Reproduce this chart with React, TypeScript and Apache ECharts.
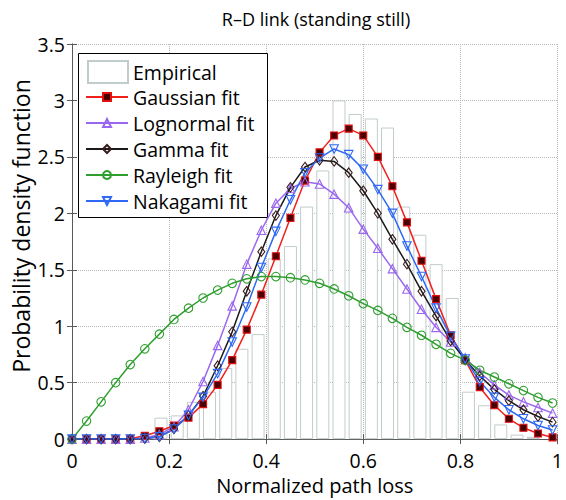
import React, { useEffect, useRef } from "react";
import * as echarts from "echarts";

// Histogram (Empirical): bin centers and heights
const binCenters = [
  0.0167, 0.05, 0.0833, 0.1167, 0.15, 0.1833, 0.2167, 0.25, 0.2833, 0.3167,
  0.35, 0.3833, 0.4167, 0.45, 0.4833, 0.5167, 0.55, 0.5833, 0.6167, 0.65,
  0.6833, 0.7167, 0.75, 0.7833, 0.8167, 0.85, 0.8833, 0.9167, 0.95, 0.9833,
];
const empirical = [
  0, 0, 0, 0.01, 0.03, 0.19, 0.21, 0.33, 0.42, 0.63,
  0.8, 0.93, 1.6, 1.71, 2.06, 2.38, 3.0, 2.88, 2.84, 2.76,
  2.06, 1.81, 1.55, 1.25, 0.42, 0.3, 0.13, 0.04, 0.02, 0,
];

// Fitted pdfs sampled at these x positions
const fitX = [
  0, 0.03, 0.06, 0.09, 0.12, 0.15, 0.18, 0.21, 0.24, 0.27, 0.3, 0.33,
  0.36, 0.39, 0.42, 0.45, 0.48, 0.51, 0.54, 0.57, 0.6, 0.63, 0.66, 0.69,
  0.72, 0.75, 0.78, 0.81, 0.84, 0.87, 0.9, 0.93, 0.96, 0.99,
];
const gaussian = [
  0, 0, 0, 0, 0.003, 0.03, 0.07, 0.12, 0.19, 0.31, 0.48, 0.7,
  0.97, 1.28, 1.62, 1.96, 2.29, 2.54, 2.69, 2.75, 2.69, 2.5, 2.24, 1.92,
  1.58, 1.24, 0.92, 0.7, 0.46, 0.3, 0.18, 0.1, 0.05, 0.015,
];
const lognormal = [
  0, 0, 0, 0, 0, 0.01, 0.04, 0.11, 0.26, 0.51, 0.83, 1.18,
  1.55, 1.85, 2.09, 2.22, 2.28, 2.26, 2.17, 2.05, 1.86, 1.69, 1.51, 1.33,
  1.15, 0.99, 0.86, 0.72, 0.59, 0.48, 0.39, 0.33, 0.28, 0.23,
];
const gamma = [
  0, 0, 0, 0, 0, 0.005, 0.02, 0.09, 0.21, 0.38, 0.65, 0.95,
  1.31, 1.66, 1.98, 2.23, 2.41, 2.47, 2.46, 2.36, 2.2, 2.0, 1.77, 1.55,
  1.31, 1.09, 0.87, 0.7, 0.56, 0.44, 0.34, 0.26, 0.2, 0.15,
];
const rayleigh = [
  0, 0.16, 0.33, 0.5, 0.66, 0.8, 0.93, 1.06, 1.16, 1.25, 1.32, 1.38,
  1.42, 1.44, 1.44, 1.43, 1.41, 1.38, 1.33, 1.27, 1.2, 1.14, 1.07, 0.99,
  0.92, 0.84, 0.76, 0.7, 0.61, 0.55, 0.49, 0.43, 0.37, 0.32,
];
const nakagami = [
  0, 0, 0, 0, 0, 0.005, 0.02, 0.09, 0.21, 0.37, 0.58, 0.86,
  1.17, 1.52, 1.84, 2.12, 2.36, 2.49, 2.57, 2.52, 2.39, 2.21, 2.0, 1.71,
  1.44, 1.16, 0.91, 0.71, 0.51, 0.37, 0.26, 0.18, 0.12, 0.08,
];

const seriesNames = [
  "Empirical",
  "Gaussian fit",
  "Lognormal fit",
  "Gamma fit",
  "Rayleigh fit",
  "Nakagami fit",
];
const titleText = "R\u2013D link (standing still)";
const xAxisTitle = "Normalized path loss";
const yAxisTitle = "Probability density function";

export default function App() {
  const ref = useRef<HTMLDivElement>(null);

  useEffect(() => {
    const chart = echarts.init(ref.current!, null, { renderer: "svg" });
    const FONT = "Open Sans";
    const pair = (xs: number[], ys: number[]) => xs.map((x, i) => [x, ys[i]]);

    const lineSeries = (
      name: string,
      ys: number[],
      color: string,
      symbol: string,
      fill: string,
      border: string,
      size: number | number[],
      rotate = 0
    ) => ({
      type: "line",
      name,
      data: pair(fitX, ys),
      symbol,
      symbolSize: size,
      symbolRotate: rotate,
      showSymbol: true,
      showAllSymbol: true,
      silent: true,
      lineStyle: { color, width: 1.5 },
      itemStyle: { color: fill, borderColor: border, borderWidth: 1.1 },
    });

    const axisColor = "#5a5a5a";
    const gridLine = { show: true, lineStyle: { color: "#b8b8b8", type: "dotted", width: 1 } };

    chart.setOption({
      animation: false,
      backgroundColor: "#ffffff",
      grid: { left: 72, right: 5, top: 44, bottom: 55 },
      xAxis: [
        {
          type: "value",
          min: 0,
          max: 1,
          interval: 0.2,
          name: xAxisTitle,
          nameLocation: "middle",
          nameGap: 33,
          nameTextStyle: { fontFamily: FONT, fontSize: 20, color: "#000" },
          axisLine: { show: true, onZero: false, lineStyle: { color: axisColor } },
          axisTick: { show: true, inside: true, length: 5, lineStyle: { color: axisColor } },
          axisLabel: { fontFamily: FONT, fontSize: 19.5, color: "#000", margin: 11 },
          splitLine: gridLine,
        },
        {
          type: "value",
          position: "top",
          min: 0,
          max: 1,
          interval: 0.2,
          axisLine: { show: true, lineStyle: { color: axisColor } },
          axisTick: { show: true, inside: true, length: 5, lineStyle: { color: axisColor } },
          axisLabel: { show: false },
          splitLine: { show: false },
        },
      ],
      yAxis: [
        {
          type: "value",
          min: 0,
          max: 3.5,
          interval: 0.5,
          axisLine: { show: true, lineStyle: { color: axisColor } },
          axisTick: { show: true, inside: true, length: 5, lineStyle: { color: axisColor } },
          axisLabel: { fontFamily: FONT, fontSize: 19.5, color: "#000", margin: 7 },
          splitLine: gridLine,
        },
        {
          type: "value",
          position: "right",
          min: 0,
          max: 3.5,
          interval: 0.5,
          axisLine: { show: true, lineStyle: { color: axisColor } },
          axisTick: { show: true, inside: true, length: 5, lineStyle: { color: axisColor } },
          axisLabel: { show: false },
          splitLine: { show: false },
        },
      ],
      legend: [
        {
          data: [seriesNames[0]],
          orient: "vertical",
          left: 87,
          top: 60,
          padding: 0,
          itemWidth: 40,
          itemHeight: 22,
          icon: "rect",
          selectedMode: false,
          textStyle: { fontFamily: FONT, fontSize: 19.5, color: "#000", lineHeight: 22 },
        },
        {
          data: seriesNames.slice(1),
          orient: "vertical",
          left: 85,
          top: 87,
          padding: 0,
          itemWidth: 42,
          itemHeight: 10,
          itemGap: 6,
          selectedMode: false,
          textStyle: { fontFamily: FONT, fontSize: 19.5, color: "#000", lineHeight: 20 },
        },
      ],
      graphic: [
        {
          type: "rect",
          z: 3,
          shape: { x: 78.5, y: 53.5, width: 189, height: 164 },
          style: { fill: "#ffffff", stroke: "#000000", lineWidth: 1 },
          silent: true,
        },
        {
          type: "text",
          x: 316,
          y: 19,
          z: 5,
          style: {
            text: titleText,
            fontFamily: FONT,
            fontSize: 18,
            fill: "#000",
            align: "center",
            verticalAlign: "middle",
          },
        },
        {
          type: "text",
          x: 21,
          y: 226,
          rotation: Math.PI / 2,
          z: 5,
          style: {
            text: yAxisTitle,
            fontFamily: FONT,
            fontSize: 23,
            fill: "#000",
            align: "center",
            verticalAlign: "middle",
          },
        },
      ],
      series: [
        {
          type: "bar",
          name: seriesNames[0],
          data: pair(binCenters, empirical).filter((d) => d[1] > 0),
          barWidth: 13,
          silent: true,
          itemStyle: { color: "#ffffff", borderColor: "#c2cccc", borderWidth: 1 },
        },
        lineSeries(seriesNames[1], gaussian, "#f0201c", "rect", "#4a0000", "#e01010", 7),
        lineSeries(seriesNames[2], lognormal, "#9a68ee", "triangle", "transparent", "#9a68ee", 8.5),
        lineSeries(seriesNames[3], gamma, "#1a1a1a", "diamond", "transparent", "#3a1a1a", [7, 9.5]),
        lineSeries(seriesNames[4], rayleigh, "#2f9e2f", "circle", "transparent", "#2f9e2f", 8.5),
        lineSeries(seriesNames[5], nakagami, "#2e68f5", "triangle", "transparent", "#2e68f5", 8.5, 180),
      ],
    });

    return () => chart.dispose();
  }, []);

  return (
    <div
      ref={ref}
      style={{ position: "fixed", left: 0, top: 0, width: 566, height: 500, background: "#fff" }}
    />
  );
}
